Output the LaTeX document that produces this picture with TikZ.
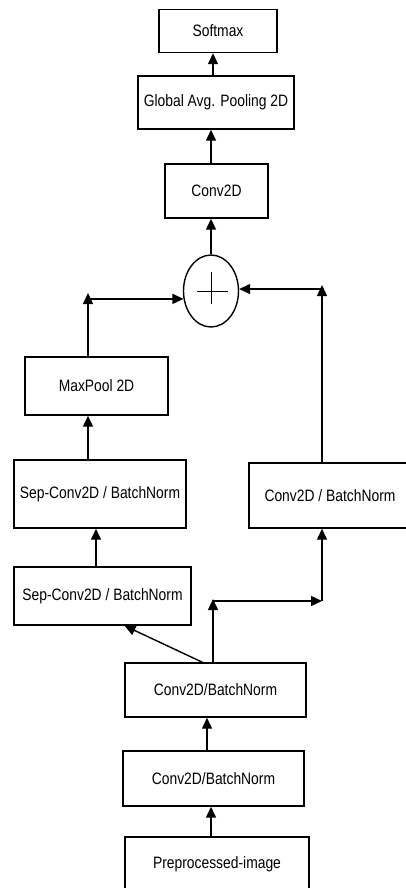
\documentclass[tikz,border=0pt]{standalone}
\usepackage{fontspec}
\setmainfont[FakeStretch=0.84]{Liberation Sans}
\usetikzlibrary{arrows.meta, shapes.geometric}

\begin{document}
\begin{tikzpicture}[x=1pt, y=-1pt, line width=1.4pt,
		block/.style={draw, rectangle, inner sep=0pt, font=\fontsize{16.5}{19}\selectfont},
		arr/.style={-{Triangle[length=11pt, width=10pt]}}]
				\useasboundingbox (0,0) rectangle (406,888);

				% Draw the blocks of the main path
				\node[block, minimum width=118pt, minimum height=43pt] (softmax) at (218, 31) {Softmax};
				\node[block, minimum width=156pt, minimum height=53pt] (gap) at (216, 102.5) {Global Avg. Pooling 2D};
				\node[block, minimum width=103pt, minimum height=54pt] (conv) at (216.5, 191) {Conv2D};
				\node[draw, ellipse, minimum width=55pt, minimum height=72pt, inner sep=0pt] (plus) at (211, 291) {};
				\draw[line width=0.8pt] ([xshift=-14pt]plus.center) -- ([xshift=17pt]plus.center);
				\draw[line width=0.8pt] ([yshift=-13pt]plus.center) -- ([yshift=19pt]plus.center);

				% Draw the left branch
				\node[block, minimum width=143pt, minimum height=58pt] (maxpool) at (96.5, 386) {MaxPool 2D};
				\node[block, minimum width=172pt, minimum height=68pt] (sepA) at (100, 494) {Sep-Conv2D / BatchNorm};
				\node[block, minimum width=177pt, minimum height=58pt] (sepB) at (102.5, 596) {Sep-Conv2D / BatchNorm};

				% Draw the right branch
				\node[block, minimum width=162pt, minimum height=65pt] (convR) at (330, 495.5) {Conv2D / BatchNorm};

				% Draw the stem
				\node[block, minimum width=181pt, minimum height=54pt] (stemA) at (215.5, 690) {Conv2D/BatchNorm};
				\node[block, minimum width=181pt, minimum height=55pt] (stemB) at (213.5, 778.5) {Conv2D/BatchNorm};
				\node[block, minimum width=184pt, minimum height=54pt] (prep) at (217, 864) {Preprocessed-image};

				\coordinate (split) at (213, 599);
				\coordinate (splitR) at (322, 601);
				\coordinate (cornerL) at (88, 293);
				\coordinate (cornerR) at (322, 285);

				% Draw the arrows of the stem
				\draw[arr] ([xshift=-6pt]prep.north) -- ([xshift=-2.5pt]stemB.south);
				\draw[arr] ([xshift=-6.5pt]stemB.north) -- ([xshift=-8.5pt]stemA.south);
				\draw[arr] ([xshift=-13pt]stemA.north) -- ([xshift=22pt]sepB.south);
				\draw[arr] (stemA.north -| split) -- (split);
				\draw[arr] (split |- splitR) -- (splitR);
				\draw[arr] (splitR) -- (splitR |- convR.south);

				% Draw the arrows of the left branch
				\draw[arr] ([xshift=-6.5pt]sepB.north) -- ([xshift=-4pt]sepA.south);
				\draw[arr] (sepA.north -| cornerL) -- (maxpool.south -| cornerL);
				\draw[arr] (maxpool.north -| cornerL) -- (cornerL);
				\draw[arr] (cornerL |- plus.196) -- (plus.196);

				% Draw the arrows of the right branch and the top
				\draw[arr] (convR.north -| cornerR) -- (cornerR);
				\draw[arr] (cornerR |- plus.4) -- (plus.4);
				\draw[arr] (plus.north) -- (plus.north |- conv.south);
				\draw[arr] (conv.north -| plus.north) -- (gap.south -| plus.north);
				\draw[arr] ([xshift=-3pt]gap.north) -- ([xshift=-5pt]softmax.south);
\end{tikzpicture}
\end{document}
